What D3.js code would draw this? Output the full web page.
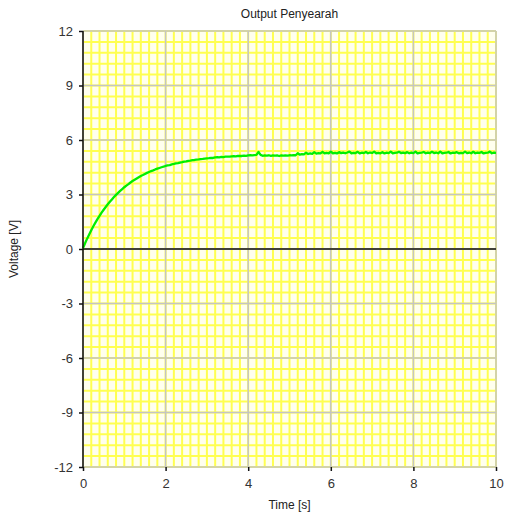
<!DOCTYPE html>
<html><head><meta charset="utf-8">
<script src="https://cdn.jsdelivr.net/npm/d3@7"></script>
<style>body{margin:0;background:#fff}</style>
</head><body>
<svg id="chart" width="505" height="514"></svg>
<script>
const chartTitle = "Output Penyearah";
const xLabel = "Time [s]";
const yLabel = "Voltage [V]";
const xTicks = [0, 2, 4, 6, 8, 10];
const yTicks = [-12, -9, -6, -3, 0, 3, 6, 9, 12];
const sampleInterval = 0.05; // seconds between samples
const voltage = [
0.05,0.32,0.57,0.80,1.03,1.25,1.45,1.64,1.82,2.00,
2.16,2.31,2.46,2.60,2.73,2.86,2.98,3.09,3.20,3.30,
3.40,3.49,3.57,3.66,3.74,3.81,3.88,3.95,4.02,4.07,
4.13,4.19,4.24,4.29,4.33,4.38,4.42,4.46,4.50,4.53,
4.57,4.60,4.62,4.66,4.68,4.71,4.73,4.76,4.78,4.81,
4.82,4.85,4.86,4.89,4.90,4.92,4.93,4.95,4.96,4.98,
4.99,5.00,5.02,5.01,5.04,5.05,5.04,5.07,5.06,5.08,
5.09,5.08,5.10,5.11,5.10,5.12,5.13,5.12,5.14,5.13,
5.15,5.16,5.15,5.17,5.18,5.34,5.18,5.13,5.15,5.14,
5.16,5.13,5.15,5.14,5.15,5.12,5.15,5.14,5.15,5.14,
5.16,5.15,5.17,5.16,5.27,5.19,5.22,5.21,5.30,5.23,
5.26,5.24,5.33,5.25,5.28,5.26,5.35,5.26,5.29,5.27,
5.36,5.27,5.29,5.26,5.33,5.28,5.30,5.27,5.31,5.36,
5.27,5.29,5.28,5.35,5.26,5.30,5.28,5.34,5.27,5.31,
5.29,5.36,5.27,5.29,5.27,5.33,5.26,5.30,5.28,5.36,
5.27,5.29,5.30,5.35,5.28,5.31,5.28,5.33,5.27,5.30,
5.28,5.36,5.26,5.29,5.31,5.34,5.27,5.30,5.28,5.35,
5.28,5.31,5.27,5.36,5.27,5.29,5.30,5.34,5.26,5.30,
5.29,5.33,5.27,5.29,5.28,5.36,5.28,5.31,5.27,5.35,
5.27,5.30,5.29,5.34,5.26,5.29,5.30,5.36,5.27,5.30,
5.29
];

const svg = d3.select("#chart");
const margin = {left: 83, right: 9, top: 31, bottom: 47};
const W = 505, H = 514;
const x = d3.scaleLinear().domain([0, 10]).range([margin.left, W - margin.right]);
const y = d3.scaleLinear().domain([-12, 12]).range([H - margin.bottom, margin.top]);
const font = "Liberation Sans, Arial, sans-serif";

svg.append("rect").attr("x", x(0)).attr("y", y(12))
  .attr("width", x(10) - x(0)).attr("height", y(-12) - y(12)).attr("fill", "#ffffee");

const minorX = d3.range(0, 51).map(i => i * 0.2);
const minorY = d3.range(0, 41).map(i => -12 + i * 0.6);
const g = svg.append("g");
g.selectAll(".mx").data(minorX).join("line")
  .attr("x1", d => x(d)).attr("x2", d => x(d)).attr("y1", y(12)).attr("y2", y(-12))
  .attr("stroke", "#ffff50").attr("stroke-width", 2);
g.selectAll(".my").data(minorY).join("line")
  .attr("y1", d => y(d)).attr("y2", d => y(d)).attr("x1", x(0)).attr("x2", x(10))
  .attr("stroke", "#ffff50").attr("stroke-width", 2);
g.selectAll(".MX").data(xTicks).join("line")
  .attr("x1", d => x(d)).attr("x2", d => x(d)).attr("y1", y(12)).attr("y2", y(-12))
  .attr("stroke", "#c4c4c4").attr("stroke-width", 1.5);
g.selectAll(".MY").data(yTicks).join("line")
  .attr("y1", d => y(d)).attr("y2", d => y(d)).attr("x1", x(0)).attr("x2", x(10))
  .attr("stroke", "#c4c4c4").attr("stroke-width", 1.5);
svg.append("line").attr("x1", x(0)).attr("x2", x(10)).attr("y1", y(0)).attr("y2", y(0))
  .attr("stroke", "#111").attr("stroke-width", 1.5);

const line = d3.line().x((d, i) => x(i * sampleInterval)).y(d => y(d));
svg.append("path").datum(voltage).attr("d", line)
  .attr("fill", "none").attr("stroke", "#00ee00").attr("stroke-width", 2.3)
  .attr("stroke-linejoin", "round");

const fmt = d => String(d);
const xAxis = d3.axisBottom(x).tickValues(xTicks).tickSize(4).tickFormat(fmt);
const yAxis = d3.axisLeft(y).tickValues(yTicks).tickSize(4).tickFormat(fmt);
const gx = svg.append("g").attr("transform", `translate(0,${y(-12)})`).call(xAxis);
const gy = svg.append("g").attr("transform", `translate(${x(0)},0)`).call(yAxis);
gx.select(".domain").remove();
gy.select(".domain").attr("stroke", "#111").attr("stroke-width", 1.5).attr("d", `M0,${y(12)}V${y(-12)}`);
[gx, gy].forEach(a => {
  a.selectAll(".tick line").attr("stroke", "#111").attr("stroke-width", 1.5);
  a.selectAll(".tick text").attr("font-family", font).attr("font-size", 13).attr("fill", "#333");
});
gx.selectAll(".tick text").attr("dy", "0.71em").attr("y", 12);
gy.selectAll(".tick text").attr("x", -10);

svg.append("text").attr("x", x(5)).attr("y", 18).attr("text-anchor", "middle")
  .attr("font-family", font).attr("font-size", 12).attr("fill", "#222").text(chartTitle);
svg.append("text").attr("x", x(5)).attr("y", 509).attr("text-anchor", "middle")
  .attr("font-family", font).attr("font-size", 12).attr("fill", "#222").text(xLabel);
svg.append("text").attr("transform", `translate(18,${y(0)}) rotate(-90)`).attr("text-anchor", "middle")
  .attr("font-family", font).attr("font-size", 12).attr("fill", "#222").text(yLabel);
</script>
</body></html>
